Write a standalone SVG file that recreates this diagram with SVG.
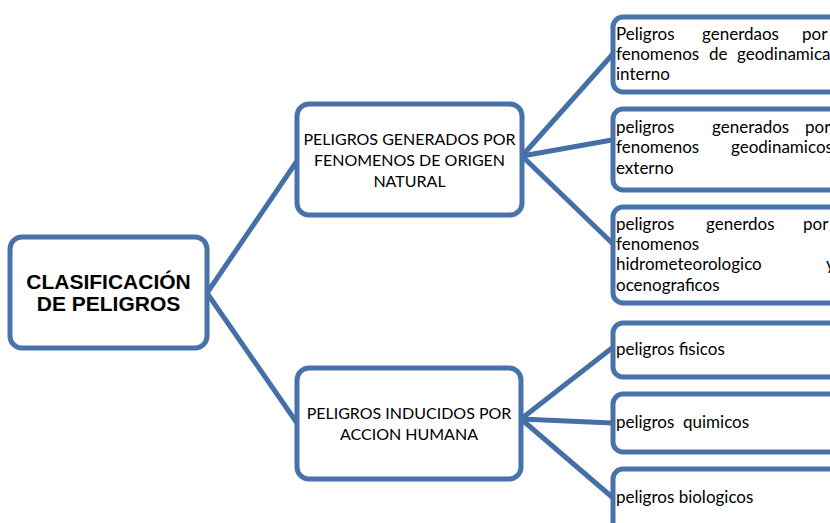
<svg xmlns="http://www.w3.org/2000/svg" width="830" height="523" viewBox="0 0 830 523">
<style>
.box{fill:#fff;stroke:#4872aa;stroke-width:5}
.con{stroke:#4470a6;stroke-width:5;fill:none;stroke-linecap:round}
.t{font-family:Lato,"Liberation Sans",sans-serif;font-size:17px;fill:#000}
.c{text-anchor:middle;font-size:16px}
.root{font-family:"Liberation Sans",Arial,sans-serif;font-size:21px;font-weight:bold;text-anchor:middle;fill:#000}
</style>
<rect width="830" height="523" fill="#fff"/>
<g id="connectors">
<line class="con" x1="207" y1="293" x2="297" y2="161"/>
<line class="con" x1="207" y1="293" x2="297" y2="423"/>
<line class="con" x1="522" y1="156" x2="612" y2="55"/>
<line class="con" x1="522" y1="156" x2="612" y2="140"/>
<line class="con" x1="522" y1="156" x2="612" y2="243"/>
<line class="con" x1="521" y1="419" x2="612" y2="348"/>
<line class="con" x1="521" y1="419" x2="612" y2="423"/>
<line class="con" x1="521" y1="419" x2="612" y2="497"/>
</g>
<g id="root">
<rect class="box" x="10" y="237" width="197" height="111" rx="12"/>
<text class="root" x="108.5" y="289">CLASIFICACIÓN</text>
<text class="root" x="108.5" y="311">DE PELIGROS</text>
</g>
<g id="natural">
<rect class="box" x="297" y="104" width="225" height="111" rx="12"/>
<text class="t c" x="409.5" y="145">PELIGROS GENERADOS POR</text>
<text class="t c" x="409.5" y="166">FENOMENOS DE ORIGEN</text>
<text class="t c" x="409.5" y="187">NATURAL</text>
</g>
<g id="humana">
<rect class="box" x="297" y="368" width="224" height="111" rx="12"/>
<text class="t c" x="409" y="419">PELIGROS INDUCIDOS POR</text>
<text class="t c" x="409" y="440">ACCION HUMANA</text>
</g>
<g id="interno">
<rect class="box" x="613" y="17" width="240" height="75" rx="10"/>
<text class="t" y="40"><tspan x="616">Peligros</tspan><tspan x="702">generdaos</tspan><tspan x="802">por</tspan></text>
<text class="t" y="60"><tspan x="616">fenomenos</tspan><tspan x="709">de</tspan><tspan x="737">geodinamica</tspan></text>
<text class="t" x="616" y="80">interno</text>
</g>
<g id="externo">
<rect class="box" x="613" y="109" width="240" height="81" rx="10"/>
<text class="t" y="133"><tspan x="616">peligros</tspan><tspan x="712">generados</tspan><tspan x="805">por</tspan></text>
<text class="t" y="153"><tspan x="616">fenomenos</tspan><tspan x="731">geodinamicos</tspan></text>
<text class="t" x="616" y="174">externo</text>
</g>
<g id="hidro">
<rect class="box" x="613" y="207" width="240" height="96" rx="10"/>
<text class="t" y="230"><tspan x="616">peligros</tspan><tspan x="706">generdos</tspan><tspan x="803">por</tspan></text>
<text class="t" x="616" y="250">fenomenos</text>
<text class="t" y="270"><tspan x="616">hidrometeorologico</tspan><tspan x="826">y</tspan></text>
<text class="t" x="616" y="291">ocenograficos</text>
</g>
<g id="fisicos">
<rect class="box" x="613" y="323" width="240" height="54" rx="10"/>
<text class="t" x="616" y="355">peligros fisicos</text>
</g>
<g id="quimicos">
<rect class="box" x="613" y="394" width="240" height="58" rx="10"/>
<text class="t" y="428"><tspan x="616">peligros</tspan><tspan x="683">quimicos</tspan></text>
</g>
<g id="biologicos">
<rect class="box" x="613" y="469" width="240" height="80" rx="10"/>
<text class="t" x="616" y="503">peligros biologicos</text>
</g>
</svg>
